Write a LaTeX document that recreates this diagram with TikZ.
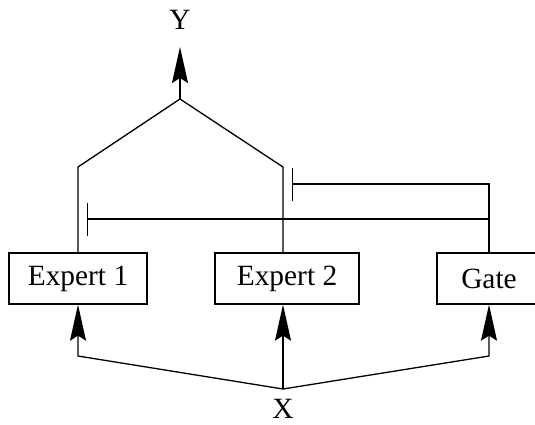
\documentclass[tikz,border=0pt]{standalone}
\usepackage{fontspec}
\setmainfont{Liberation Serif}
\usetikzlibrary{shapes,arrows.meta,positioning,calc}

\begin{document}
\begin{tikzpicture}[x=0.5pt, y=-0.5pt, line width=0.65pt,
  font=\fontsize{14.7}{17}\selectfont,
  box/.style={draw, rectangle, minimum height=25.5pt, inner sep=0pt},
  arr/.style={-{Stealth[length=18pt, width=8pt, inset=2.5pt]}},
  stop/.style={-{Bar[width=16.5pt]}}]
\useasboundingbox (0,0) rectangle (535,424);
\clip (0,0) rectangle (535,424);

% Ausgang und Eingang
\node (y) at (180,20) {Y};
\node (x) at (283,409) {X};
\coordinate (yout) at (180,47);
\coordinate (top) at (180,99);
\coordinate (xin) at (283,389);

% Module
\node[box, minimum width=69pt] (exp1) at (78,278.5) {Expert 1};
\node[box, minimum width=72pt] (exp2) at (287,278.5) {Expert 2};
\node[box, minimum width=52pt] (gate) at (489,278.5) {Gate};

% Ausgaenge zusammenfuehren
\coordinate (l1) at (78,167);
\coordinate (r1) at (283,167);
\draw (exp1.north) -- (l1) -- (top) -- (r1) -- (r1 |- exp2.north);
\draw[arr] (top) -- (yout);

% Gate steuert die Experten
\coordinate (g1) at (292,184);
\coordinate (g2) at (489,219);
\coordinate (g3) at (87,219);
\draw[stop] (gate.north) |- (g1);
\draw[stop] (g2) -- (g3);

% Eingang verteilen
\draw[arr] (xin) -- (78,356) -- (exp1.south);
\draw[arr] (xin) -- (xin |- exp2.south);
\draw[arr] (xin) -- (489,356) -- (gate.south);
\end{tikzpicture}
\end{document}
